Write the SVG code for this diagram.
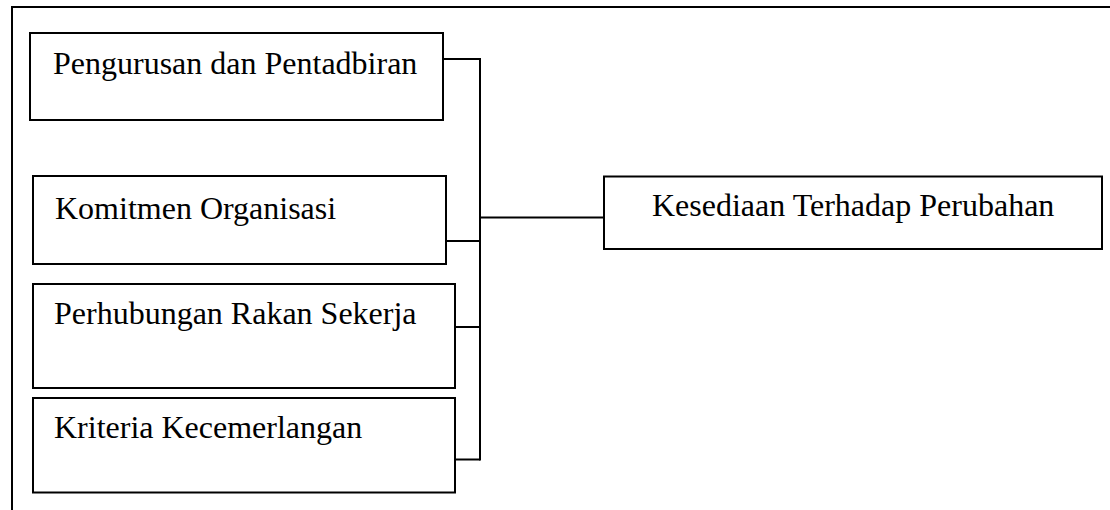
<svg xmlns="http://www.w3.org/2000/svg" width="1110" height="510" viewBox="0 0 1110 510">
  <style>
    .box { fill: #ffffff; stroke: #000000; stroke-width: 2; }
    .label { font-family: "Liberation Serif", "Times New Roman", serif; font-size: 32px; fill: #000000; }
    .wire { fill: none; stroke: #000000; stroke-width: 2; }
    .frame { fill: none; stroke: #000000; stroke-width: 2; }
  </style>
  <rect width="1110" height="510" fill="#ffffff"/>

  <!-- outer page frame (left and top edges only) -->
  <path class="frame" d="M12 510 V7 H1110"/>

  <!-- connectors: four factors joined by a bus into the outcome -->
  <g id="connectors">
    <path class="wire" d="M443 59 H480"/>
    <path class="wire" d="M443 241 H480"/>
    <path class="wire" d="M455 327 H480"/>
    <path class="wire" d="M455 459.5 H480"/>
    <path class="wire" d="M480 58 V460.5"/>
    <path class="wire" d="M480 217.5 H604"/>
  </g>

  <g id="pengurusan">
    <rect class="box" x="30" y="33" width="413" height="87"/>
    <text class="label" x="53" y="74">Pengurusan dan Pentadbiran</text>
  </g>

  <g id="komitmen">
    <rect class="box" x="33" y="176" width="413" height="88"/>
    <text class="label" x="55" y="219">Komitmen Organisasi</text>
  </g>

  <g id="perhubungan">
    <rect class="box" x="33" y="284" width="422" height="104"/>
    <text class="label" x="54" y="324">Perhubungan Rakan Sekerja</text>
  </g>

  <g id="kriteria">
    <rect class="box" x="33" y="398" width="422" height="94.5"/>
    <text class="label" x="54" y="438">Kriteria Kecemerlangan</text>
  </g>

  <g id="kesediaan">
    <rect class="box" x="604" y="176.5" width="498" height="72.5"/>
    <text class="label" x="652" y="216">Kesediaan Terhadap Perubahan</text>
  </g>
</svg>
